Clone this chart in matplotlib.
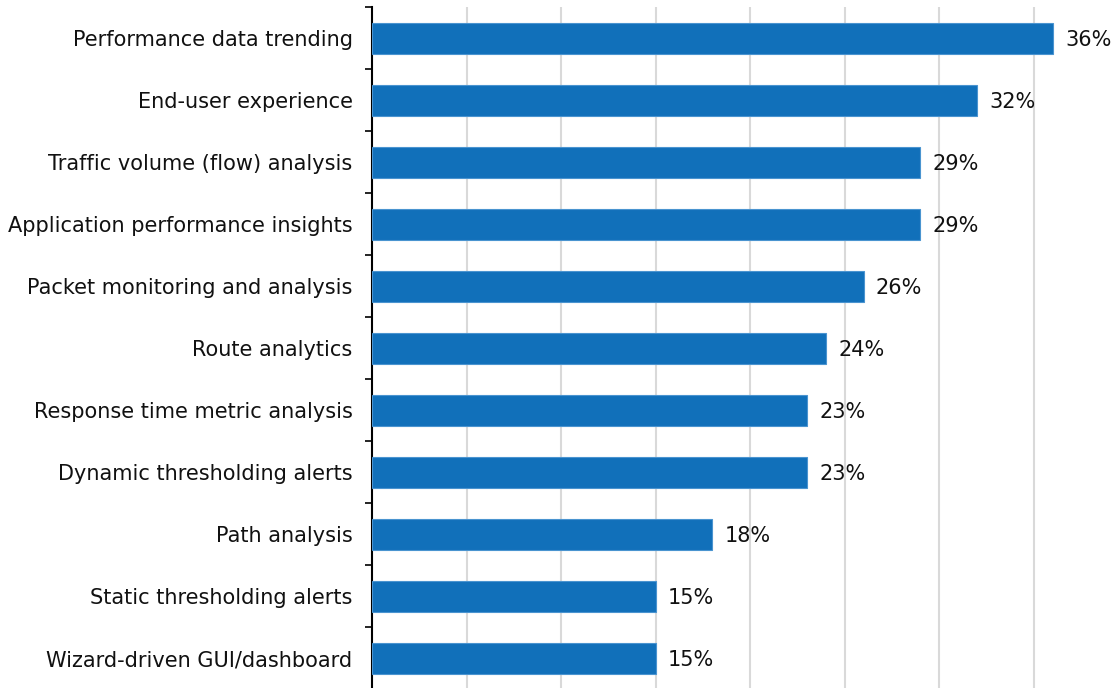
import matplotlib.pyplot as plt

categories = [
    "Performance data trending",
    "End-user experience",
    "Traffic volume (flow) analysis",
    "Application performance insights",
    "Packet monitoring and analysis",
    "Route analytics",
    "Response time metric analysis",
    "Dynamic thresholding alerts",
    "Path analysis",
    "Static thresholding alerts",
    "Wizard-driven GUI/dashboard",
]
values = [36, 32, 29, 29, 26, 24, 23, 23, 18, 15, 15]

plt.rcParams["font.family"] = ["DejaVu Sans"]

fig = plt.figure(figsize=(11.19, 6.88), dpi=100)
ax = fig.add_axes([372 / 1119, -1 / 688, (1119 - 372) / 1119, 682 / 688])

pos = list(range(len(categories)))
ax.barh(pos, values, height=0.5, color="#1170BA", edgecolor="#4A94D0",
        linewidth=0.8, zorder=3)

# percentage labels just right of each bar
for y, v in zip(pos, values):
    ax.text(v + 0.65, y + 0.04, f"{v}%", va="center", ha="left", fontsize=15,
            color="#111111")

ax.set_xlim(0, 39.5)
ax.set_ylim(len(categories) - 0.5, -0.5)
ax.set_xticks([5, 10, 15, 20, 25, 30, 35])
ax.xaxis.grid(True, color="#D9D9D9", linewidth=1.5, zorder=0)
ax.tick_params(axis="x", length=0, labelbottom=False)

ax.set_yticks(pos)
ax.set_yticklabels(categories, fontsize=15, color="#111111")
ax.tick_params(axis="y", which="major", length=0, pad=14)
ax.set_yticks([p - 0.5 for p in pos] + [len(categories) - 0.5], minor=True)
ax.tick_params(axis="y", which="minor", length=5, width=1.2, color="black")

for side in ["top", "right", "bottom"]:
    ax.spines[side].set_visible(False)
ax.spines["left"].set_linewidth(1.5)
ax.spines["left"].set_color("black")

fig.savefig("out.png", dpi=100)
